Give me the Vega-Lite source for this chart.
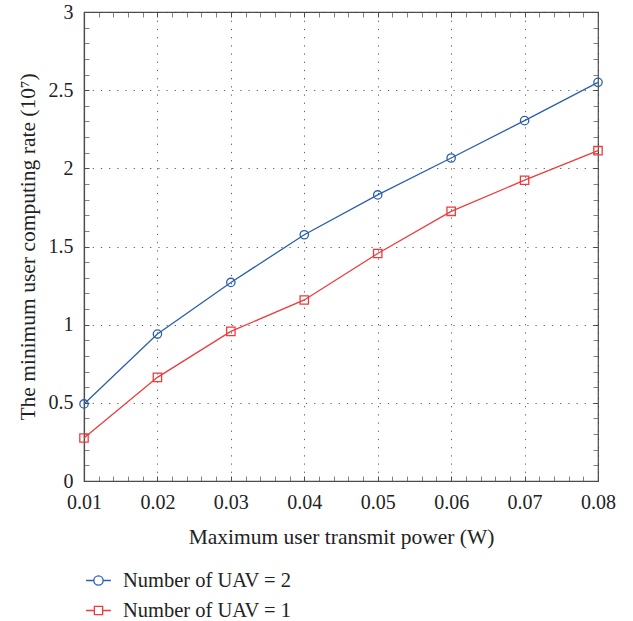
{
  "$schema": "https://vega.github.io/schema/vega-lite/v6.json",
  "width": 514,
  "height": 469,
  "autosize": {"type": "none"},
  "padding": {"left": 84, "top": 12, "right": 35, "bottom": 140},
  "background": "white",
  "config": {
    "font": "Liberation Serif",
    "view": {"stroke": "#4d4d4d", "strokeWidth": 1.2},
    "axis": {
      "labelFont": "Liberation Serif",
      "titleFont": "Liberation Serif",
      "labelFontSize": 20,
      "titleFontSize": 21.5,
      "titleFontWeight": "normal",
      "labelColor": "#222",
      "titleColor": "#222",
      "domainColor": "#4d4d4d",
      "domainWidth": 1.2,
      "tickColor": "#4d4d4d",
      "tickWidth": 1,
      "labelFlush": false,
      "labelOverlap": false,
      "gridColor": "#333",
      "gridDash": [1.2, 7],
      "gridWidth": 1
    },
    "legend": {
      "labelFont": "Liberation Serif",
      "labelFontSize": 20.5,
      "labelColor": "#222",
      "labelLimit": 400
    }
  },
  "data": {
    "values": [
      {"p": 0.01, "rate": 0.493, "series": "Number of UAV = 2"},
      {"p": 0.02, "rate": 0.94, "series": "Number of UAV = 2"},
      {"p": 0.03, "rate": 1.27, "series": "Number of UAV = 2"},
      {"p": 0.04, "rate": 1.575, "series": "Number of UAV = 2"},
      {"p": 0.05, "rate": 1.83, "series": "Number of UAV = 2"},
      {"p": 0.06, "rate": 2.066, "series": "Number of UAV = 2"},
      {"p": 0.07, "rate": 2.305, "series": "Number of UAV = 2"},
      {"p": 0.08, "rate": 2.55, "series": "Number of UAV = 2"},
      {"p": 0.01, "rate": 0.275, "series": "Number of UAV = 1"},
      {"p": 0.02, "rate": 0.663, "series": "Number of UAV = 1"},
      {"p": 0.03, "rate": 0.957, "series": "Number of UAV = 1"},
      {"p": 0.04, "rate": 1.158, "series": "Number of UAV = 1"},
      {"p": 0.05, "rate": 1.455, "series": "Number of UAV = 1"},
      {"p": 0.06, "rate": 1.725, "series": "Number of UAV = 1"},
      {"p": 0.07, "rate": 1.924, "series": "Number of UAV = 1"},
      {"p": 0.08, "rate": 2.113, "series": "Number of UAV = 1"}
    ]
  },
  "resolve": {"axis": {"x": "independent", "y": "independent"}},
  "layer": [
    {
      "mark": {"type": "line", "strokeWidth": 1.3},
      "encoding": {
        "x": {
          "field": "p",
          "type": "quantitative",
          "scale": {"domain": [0.01, 0.08], "nice": false, "zero": false},
          "axis": {
            "values": [0.01, 0.012, 0.014, 0.016, 0.018, 0.02, 0.022, 0.024, 0.026, 0.028, 0.03, 0.032, 0.034, 0.036, 0.038, 0.04, 0.042, 0.044, 0.046, 0.048, 0.05, 0.052, 0.054, 0.056, 0.058, 0.06, 0.062, 0.064, 0.066, 0.068, 0.07, 0.072, 0.074, 0.076, 0.078, 0.08],
            "labelExpr": "abs(datum.value*100 - round(datum.value*100)) < 0.001 ? format(datum.value, '.2f') : ''",
            "tickSize": -5,
            "tickOpacity": {"condition": {"test": "abs(datum.value*100 - round(datum.value*100)) < 0.001", "value": 1}, "value": 0.7},
            "grid": true,
            "gridOpacity": {"condition": {"test": "abs(datum.value*100 - round(datum.value*100)) < 0.001", "value": 0.8}, "value": 0},
            "labelPadding": 16,
            "title": "Maximum user transmit power (W)",
            "titlePadding": 14
          }
        },
        "y": {
          "field": "rate",
          "type": "quantitative",
          "scale": {"domain": [0, 3], "nice": false},
          "axis": {
            "values": [0, 0.1, 0.2, 0.3, 0.4, 0.5, 0.6, 0.7, 0.8, 0.9, 1, 1.1, 1.2, 1.3, 1.4, 1.5, 1.6, 1.7, 1.8, 1.9, 2, 2.1, 2.2, 2.3, 2.4, 2.5, 2.6, 2.7, 2.8, 2.9, 3],
            "labelExpr": "abs(datum.value*2 - round(datum.value*2)) < 0.001 ? format(datum.value, '.1~f') : ''",
            "tickSize": -5,
            "tickOpacity": {"condition": {"test": "abs(datum.value*2 - round(datum.value*2)) < 0.001", "value": 1}, "value": 0.7},
            "grid": true,
            "gridOpacity": {"condition": {"test": "abs(datum.value*2 - round(datum.value*2)) < 0.001", "value": 0.8}, "value": 0},
            "labelPadding": 16,
            "title": "The minimum user computing rate (10⁷)",
            "titlePadding": 9
          }
        },
        "color": {
          "field": "series",
          "type": "nominal",
          "sort": ["Number of UAV = 2", "Number of UAV = 1"],
          "scale": {"domain": ["Number of UAV = 2", "Number of UAV = 1"], "range": ["#2b5fad", "#f03a3c"]},
          "legend": {
            "orient": "none",
            "legendX": 3,
            "legendY": 557,
            "title": null,
            "padding": 0,
            "symbolSize": 430,
            "symbolStrokeWidth": 1.3,
            "labelOffset": 13,
            "labelLimit": 400,
            "rowPadding": 8,
            "encode": {
              "symbols": {
                "update": {
                  "shape": {"signal": "datum.value === 'Number of UAV = 2' ? 'M-1.2,0H-0.45M0.45,0H1.2M-0.45,0A0.45,0.45 0 1,0 0.45,0A0.45,0.45 0 1,0 -0.45,0' : 'M-1.2,0H-0.4M0.4,0H1.2M-0.4,-0.4H0.4V0.4H-0.4Z'"},
                  "fill": {"value": "transparent"},
                  "stroke": {"scale": "color", "field": "value"}
                }
              }
            }
          }
        }
      }
    },
    {
      "transform": [{"filter": "datum.series === 'Number of UAV = 2'"}],
      "mark": {"type": "point", "shape": "circle", "filled": false, "size": 70, "strokeWidth": 1.3, "opacity": 1},
      "encoding": {
        "x": {
          "field": "p",
          "type": "quantitative",
          "axis": {
            "orient": "top",
            "values": [0.01, 0.012, 0.014, 0.016, 0.018, 0.02, 0.022, 0.024, 0.026, 0.028, 0.03, 0.032, 0.034, 0.036, 0.038, 0.04, 0.042, 0.044, 0.046, 0.048, 0.05, 0.052, 0.054, 0.056, 0.058, 0.06, 0.062, 0.064, 0.066, 0.068, 0.07, 0.072, 0.074, 0.076, 0.078, 0.08],
            "labels": false,
            "domain": false,
            "grid": false,
            "tickSize": -5,
            "tickOpacity": {"condition": {"test": "abs(datum.value*100 - round(datum.value*100)) < 0.001", "value": 1}, "value": 0.7},
            "title": null
          }
        },
        "y": {
          "field": "rate",
          "type": "quantitative",
          "axis": {
            "orient": "right",
            "values": [0, 0.1, 0.2, 0.3, 0.4, 0.5, 0.6, 0.7, 0.8, 0.9, 1, 1.1, 1.2, 1.3, 1.4, 1.5, 1.6, 1.7, 1.8, 1.9, 2, 2.1, 2.2, 2.3, 2.4, 2.5, 2.6, 2.7, 2.8, 2.9, 3],
            "labels": false,
            "domain": false,
            "grid": false,
            "tickSize": -5,
            "tickOpacity": {"condition": {"test": "abs(datum.value*2 - round(datum.value*2)) < 0.001", "value": 1}, "value": 0.7},
            "title": null
          }
        },
        "color": {"field": "series", "type": "nominal"}
      }
    },
    {
      "transform": [{"filter": "datum.series === 'Number of UAV = 1'"}],
      "mark": {"type": "point", "shape": "square", "filled": false, "size": 70, "strokeWidth": 1.3, "opacity": 1},
      "encoding": {
        "x": {"field": "p", "type": "quantitative", "axis": null},
        "y": {"field": "rate", "type": "quantitative", "axis": null},
        "color": {"field": "series", "type": "nominal"}
      }
    }
  ]
}
